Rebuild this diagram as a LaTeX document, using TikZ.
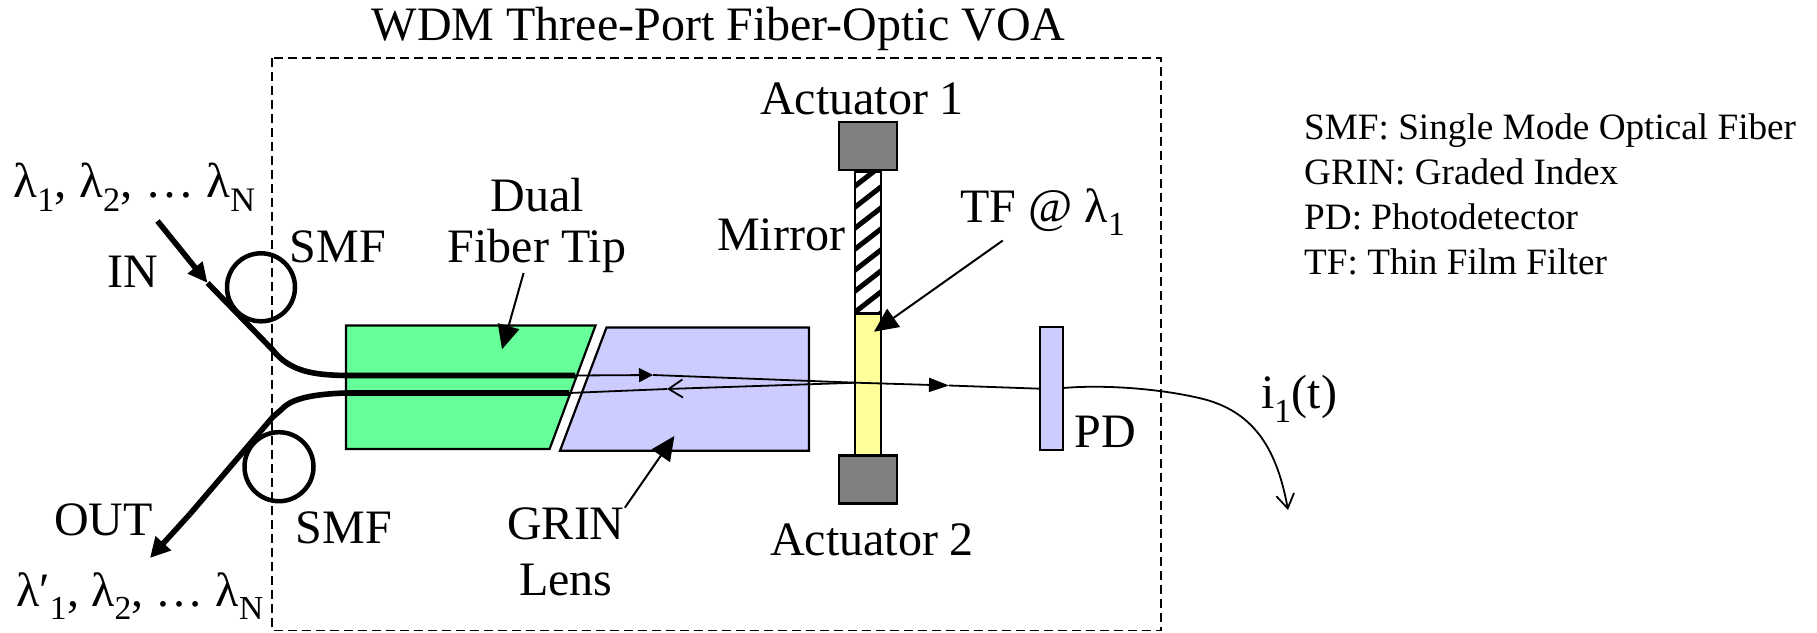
\documentclass[tikz,border=0pt]{standalone}
\usepackage{fontspec}
\setmainfont{Liberation Serif}
\usetikzlibrary{arrows.meta}
\definecolor{tipgreen}{HTML}{66FF99}
\definecolor{lensblue}{HTML}{CCCCFF}
\definecolor{filmyellow}{HTML}{FFFF99}
\newcommand{\lam}[1]{λ\textsubscript{#1}}
\tikzset{
    label text/.style={inner sep=0pt,align=center,font=\fontsize{48}{51}\selectfont},
    part/.style={draw,line width=2.2pt,line join=miter},
    fibre/.style={line width=5.6pt},
    coil/.style={line width=4.5pt},
    beam/.style={line width=1.8pt},
    pointer/.style={line width=2pt,-{Triangle[length=24pt,width=22pt]}},
    small head/.style={-{Triangle[length=14pt,width=14pt]}},
    open head/.style={-{Straight Barb[length=14pt,width=18pt,line width=1.8pt]}}
}
\begin{document}
\begin{tikzpicture}[x=1pt,y=-1pt]
    \useasboundingbox (0,0) rectangle (1817,632);

    \draw[dashed,line width=1.6pt,dash pattern=on 9pt off 5pt] (272,58) rectangle (1161,630.5); % package

    % optics
    \draw[part,fill=tipgreen] (346,325.5) -- (595.5,325.5) -- (549.6,449) -- (346,449) -- cycle; % tip
    \draw[part,fill=lensblue] (606.5,327.5) -- (809,327.5) -- (809,450.7) -- (560,450.7) -- cycle; % lens
    \draw[part,fill=lensblue] (1040,326.7) rectangle (1063,450); % PD

    \draw[part,fill=filmyellow] (855,314) rectangle (881,455); % film
    \draw[part,fill=white] (855,171.5) rectangle (881,313);    % mirror
    \begin{scope}
        \clip (855,171.5) rectangle (881,313);
        \foreach \y in {190,211,...,337}
            \draw[line width=5pt] (850,\y) -- (886,\y-28);
    \end{scope}
    \draw[part] (855,171.5) rectangle (881,313);

    \node[part,fill=gray,inner sep=0pt,minimum width=58pt,minimum height=48pt] (act1) at (868,146) {};
    \node[part,fill=gray,inner sep=0pt,minimum width=58pt,minimum height=48pt] (act2) at (868,479.5) {};

    % points on the light path
    \coordinate (upperend) at (575,375.5);
    \coordinate (lowerend) at (569,393);
    \coordinate (upperhead) at (653,375);
    \coordinate (lowerhead) at (667,389);
    \coordinate (merge) at (856,382.7);
    \coordinate (outhead) at (949,385.5);
    \coordinate (pdin) at (1040,388.7);
    \coordinate (pdout) at (1063,388);
    \coordinate (currentend) at (1288,510);

    % fibres
    \coordinate (instart) at (157.5,221);
    \coordinate (inhead) at (207.6,283);
    \coordinate (outtip) at (150,558);
    \draw[fibre,-{Triangle[length=20pt,width=18pt]}] (instart) -- (inhead);
    \draw[fibre] (inhead) -- (272.8,350) .. controls (290,372) and (315,375) .. (346,375.5) -- (upperend);
    \draw[fibre] (lowerend) -- (346,393) .. controls (315,394) and (292,398) .. (282,409) -- (272.8,417) -- (190,514);
    \draw[fibre,-{Triangle[length=20pt,width=20pt]}] (190,514) -- (outtip);
    \draw[coil] (261,287.3) circle (34pt);
    \draw[coil] (279,466.7) circle (34.5pt);

    % light
    \draw[beam,small head] (upperend) -- (upperhead);
    \draw[beam] (upperhead) -- (merge);
    \draw[beam] (lowerend) -- (lowerhead);
    \draw[beam,open head] (merge) -- (lowerhead);
    \draw[beam,-{Triangle[length=20pt,width=14pt]}] (merge) -- (outhead);
    \draw[beam] (outhead) -- (pdin);
    \draw[beam,open head] (pdout) .. controls (1110,384) and (1170,390) .. (1207,400)
        .. controls (1255,414) and (1277,450) .. (currentend);

    % labels
    \node[label text] (title) at (718.6,29) {WDM Three-Port Fiber-Optic VOA};
    \node[label text] (act1label) at (862,98.5) {Actuator 1};
    \node[label text] (act2label) at (872,540) {Actuator 2};
    \node[label text] (mirrorlabel) at (781,235) {Mirror};
    \node[label text] (filmlabel) at (1043,212) {TF @ \lam{1}};
    \node[label text] (tiplabel) at (537,225.5) {Dual\\Fiber Tip};
    \node[label text] (grinlabel) at (566,552) {GRIN\\[5pt]Lens};
    \node[label text] (smfin) at (338,247) {SMF};
    \node[label text] (smfout) at (344,528) {SMF};
    \node[label text] (inlabel) at (132.5,272) {IN};
    \node[label text] (outlabel) at (103.6,520) {OUT};
    \node[label text] (pdlabel) at (1105,432) {PD};
    \node[label text] (currentlabel) at (1299,399) {i\textsubscript{1}(t)};
    \node[label text,font=\fontsize{49}{51}\selectfont] (inwave) at (134.6,187) {\lam{1}, \lam{2}, \ldots\ \lam{N}};
    \node[label text] (outwave) at (140,596) {λ′\textsubscript{1}, \lam{2}, \ldots\ \lam{N}};
    \node[anchor=north west,inner sep=0pt,align=left,font=\fontsize{37.2}{45}\selectfont] (legend) at (1304,113.5)
        {SMF: Single Mode Optical Fiber\\GRIN: Graded Index\\PD: Photodetector\\TF: Thin Film Filter};

    % pointers
    \coordinate (tiptarget) at (502,349.3);
    \coordinate (grintarget) at (674.4,436);
    \coordinate (filmtarget) at (874,331.7);
    \draw[pointer] (tiplabel) -- (tiptarget);
    \draw[pointer] (grinlabel.north east) -- (grintarget);
    \draw[pointer,shorten <=8pt] (filmlabel) -- (filmtarget);
\end{tikzpicture}
\end{document}
